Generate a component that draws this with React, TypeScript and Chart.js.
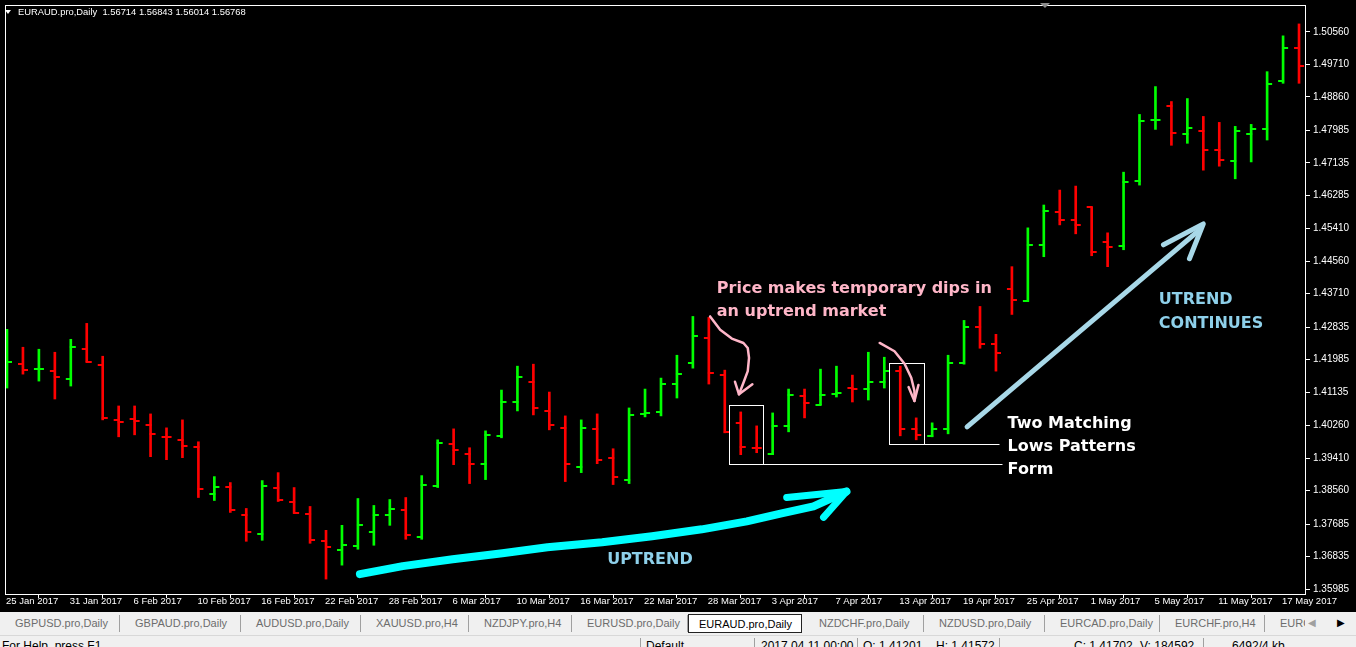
import { useEffect, useRef } from 'react';
import { Chart, registerables } from 'chart.js';

Chart.register(...registerables);

// EURAUD daily bars, 25 Jan 2017 – 18 May 2017 (one entry per trading day)
const opens = [
  1.41555, 1.41867, 1.41737, 1.41685, 1.41477, 1.42258, 1.41841, 1.40410, 1.40436, 1.40279,
  1.39967, 1.39889, 1.39707, 1.38484, 1.38666, 1.37911, 1.37416, 1.38640, 1.38249, 1.37937,
  1.37234, 1.37000, 1.37104, 1.37469, 1.37911, 1.38041, 1.37338, 1.38692, 1.39785, 1.39525,
  1.39264, 1.39993, 1.40878, 1.41399, 1.40644, 1.40201, 1.39186, 1.40175, 1.39421, 1.38848,
  1.40566, 1.40618, 1.41347, 1.41893, 1.42544, 1.41581, 1.40332, 1.39681, 1.39525, 1.40253,
  1.41034, 1.40807, 1.41086, 1.41243, 1.41216, 1.41399, 1.41685, 1.40175, 1.39993, 1.40175,
  1.41893, 1.42830, 1.42388, 1.43845, 1.43512, 1.44990, 1.45849, 1.45641, 1.45971, 1.45068,
  1.44964, 1.46656, 1.48244, 1.48608, 1.47879, 1.47957, 1.47463, 1.47184, 1.47887, 1.48017,
  1.49267, 1.50126,
];
const highs = [
  1.42778, 1.42310, 1.42258, 1.42179, 1.42518, 1.42934, 1.42075, 1.40774, 1.40774, 1.40566,
  1.40201, 1.40410, 1.39837, 1.38926, 1.38770, 1.38093, 1.38822, 1.39030, 1.38640, 1.38145,
  1.37521, 1.37651, 1.38353, 1.38171, 1.38327, 1.38379, 1.38952, 1.39889, 1.40175, 1.39681,
  1.40123, 1.41190, 1.41815, 1.41867, 1.41138, 1.40514, 1.40410, 1.40566, 1.39655, 1.40722,
  1.41216, 1.41503, 1.42101, 1.43116, 1.43090, 1.41711, 1.40618, 1.40253, 1.40592, 1.41216,
  1.41216, 1.41737, 1.41815, 1.41581, 1.42179, 1.42049, 1.41815, 1.40462, 1.40332, 1.42101,
  1.43012, 1.43377, 1.42648, 1.44418, 1.45433, 1.46031, 1.46422, 1.46526, 1.45979, 1.45303,
  1.46890, 1.48400, 1.49129, 1.48738, 1.48816, 1.48348, 1.48192, 1.48088, 1.48140, 1.49519,
  1.50456, 1.50768,
];
const lows = [
  1.41243, 1.41607, 1.41425, 1.40956, 1.41295, 1.41919, 1.40410, 1.39967, 1.40019, 1.39447,
  1.39369, 1.39421, 1.38379, 1.38301, 1.37989, 1.37234, 1.37260, 1.38275, 1.37963, 1.37182,
  1.36245, 1.36610, 1.37026, 1.37130, 1.37651, 1.37286, 1.37286, 1.38640, 1.39238, 1.38744,
  1.38848, 1.39941, 1.40644, 1.40540, 1.40149, 1.38796, 1.39030, 1.39264, 1.38718, 1.38744,
  1.40488, 1.40514, 1.40982, 1.41763, 1.41347, 1.40071, 1.39499, 1.39551, 1.39499, 1.40097,
  1.40462, 1.40800, 1.41008, 1.40878, 1.40930, 1.41243, 1.39993, 1.39889, 1.39967, 1.40045,
  1.41867, 1.42284, 1.41685, 1.43168, 1.43507, 1.44678, 1.45511, 1.45277, 1.44704, 1.44418,
  1.44860, 1.46552, 1.48009, 1.47593, 1.47645, 1.46942, 1.47046, 1.46716, 1.47158, 1.47731,
  1.49215, 1.49215,
];
const closes = [
  1.41919, 1.41711, 1.41750, 1.41529, 1.42310, 1.41927, 1.40462, 1.40358, 1.40384, 1.40045,
  1.39960, 1.39733, 1.38614, 1.38666, 1.38041, 1.37469, 1.38692, 1.38301, 1.37971, 1.37260,
  1.37078, 1.37130, 1.37651, 1.37911, 1.38067, 1.37390, 1.38718, 1.39811, 1.39629, 1.39264,
  1.40019, 1.40878, 1.41529, 1.40722, 1.40279, 1.39264, 1.40201, 1.39369, 1.38926, 1.40540,
  1.40592, 1.41347, 1.41607, 1.42596, 1.41633, 1.40097, 1.39707, 1.39676, 1.40253, 1.41060,
  1.40852, 1.41060, 1.41112, 1.41216, 1.41399, 1.41685, 1.40175, 1.40019, 1.40175, 1.41893,
  1.42830, 1.42388, 1.42153, 1.43559, 1.44990, 1.45875, 1.45641, 1.45511, 1.44808, 1.44938,
  1.46630, 1.48218, 1.48257, 1.47905, 1.48036, 1.47463, 1.47210, 1.47965, 1.48017, 1.49189,
  1.50126, 1.49657,
];

// time axis labels and the bar each one sits on
const dateLabelBars = [0, 4, 8, 12, 16, 20, 24, 28, 32, 36, 40, 44, 48, 52, 56, 60, 64, 68, 72, 76, 80];
const dateLabels = [
  '25 Jan 2017', '31 Jan 2017', '6 Feb 2017', '10 Feb 2017', '16 Feb 2017', '22 Feb 2017',
  '28 Feb 2017', '6 Mar 2017', '10 Mar 2017', '16 Mar 2017', '22 Mar 2017', '28 Mar 2017',
  '3 Apr 2017', '7 Apr 2017', '13 Apr 2017', '19 Apr 2017', '25 Apr 2017', '1 May 2017',
  '5 May 2017', '11 May 2017', '17 May 2017',
];

// price scale labels
const priceLabels = [
  '1.35985', '1.36835', '1.37685', '1.38560', '1.39410', '1.40260', '1.41135', '1.41985', '1.42835',
  '1.43710', '1.44560', '1.45410', '1.46285', '1.47135', '1.47985', '1.48860', '1.49710', '1.50560',
];

const symbolHeader = 'EURAUD.pro,Daily  1.56714 1.56843 1.56014 1.56768';

const tabNames = [
  'GBPUSD.pro,Daily', 'GBPAUD.pro,Daily', 'AUDUSD.pro,Daily', 'XAUUSD.pro,H4', 'NZDJPY.pro,H4',
  'EURUSD.pro,Daily', 'EURAUD.pro,Daily', 'NZDCHF.pro,Daily', 'NZDUSD.pro,Daily', 'EURCAD.pro,Daily',
  'EURCHF.pro,H4', 'EURGBP.pro,Daily',
];
const activeTab = 'EURAUD.pro,Daily';

const statusItems = ['For Help, press F1', 'Default', '2017.04.11 00:00', 'O: 1.41201', 'H: 1.41572', 'C: 1.41702', 'V: 184592', '6492/4 kb'];

// hand-drawn markup, in (bar index, price) units
type P = [number, number];
const uptrendArrow: P[] = [
  [22.125, 1.36375], [24.81, 1.36584], [27.94, 1.36766], [31.06, 1.36922], [33.88, 1.37078],
  [37.31, 1.37208], [40.44, 1.37364], [43.56, 1.37547], [46.38, 1.37755], [48.56, 1.37963],
  [50.56, 1.38145], [52.63, 1.38536],
];
const uptrendHead: P[] = [[48.88, 1.38379], [52.63, 1.38536], [51.19, 1.37859]];
const dipArrowA: P[] = [
  [44.08, 1.43116], [44.71, 1.42770], [45.44, 1.42536], [46.17, 1.42422], [46.44, 1.42291],
  [46.52, 1.42031], [46.44, 1.41685], [46.17, 1.41380], [45.89, 1.41079],
];
const dipHeadA: P[] = [[45.64, 1.41406], [45.89, 1.41079], [46.73, 1.41339]];
const dipArrowB: P[] = [
  [54.71, 1.42422], [55.64, 1.42205], [56.27, 1.41880], [56.69, 1.41511], [56.89, 1.41164], [56.89, 1.40904],
];
const dipHeadB: P[] = [[56.52, 1.41268], [56.89, 1.40904], [57.14, 1.41321]];
const continueArrow: P[] = [[60.19, 1.40227], [74.69, 1.45355]];
const continueHead: P[] = [[72.5, 1.44990], [75.0, 1.45537], [74.13, 1.44626]];
const lowBoxA = { x0: 45.25, x1: 47.375, top: 1.40800, bottom: 1.39264, lineTo: 62.375 };
const lowBoxB = { x0: 55.31, x1: 57.5, top: 1.41893, bottom: 1.39785, lineTo: 62.19 };

const dipNote = { x: 44.5, lines: [['Price makes temporary dips in', 1.43741], ['an uptrend market', 1.43116]] as [string, number][] };
const matchNote = { x: 62.73, lines: [['Two Matching', 1.40209], ['Lows Patterns', 1.39603], ['Form', 1.38996]] as [string, number][] };
const continueNote = { x: 72.21, lines: [['UTREND', 1.43437], ['CONTINUES', 1.42812]] as [string, number][] };
const uptrendNote = { x: 37.625, lines: [['UPTREND', 1.36636]] as [string, number][] };

const UP = '#00FF00';
const DOWN = '#FF0000';

function tickImage(color: string, side: 'open' | 'close') {
  const c = document.createElement('canvas');
  c.width = 12;
  c.height = 2;
  const g = c.getContext('2d')!;
  g.fillStyle = color;
  if (side === 'open') g.fillRect(1, 0, 6, 2);
  else g.fillRect(5, 0, 6, 2);
  return c;
}

const markup = {
  id: 'markup',
  afterDatasetsDraw(chart: any) {
    const { ctx, chartArea: a, scales } = chart;
    const X = (v: number) => scales.x.getPixelForValue(v);
    const Y = (v: number) => scales.y.getPixelForValue(v);
    ctx.save();

    // chart frame
    ctx.strokeStyle = '#FFFFFF';
    ctx.lineWidth = 1;
    ctx.strokeRect(a.left + 0.5, a.top + 0.5, a.right - a.left - 1, a.bottom - a.top);

    // header
    ctx.fillStyle = '#FFFFFF';
    ctx.beginPath();
    ctx.moveTo(5, 10);
    ctx.lineTo(11, 10);
    ctx.lineTo(8, 14);
    ctx.closePath();
    ctx.fill();
    ctx.font = '9.4px "Liberation Sans"';
    ctx.textBaseline = 'middle';
    ctx.fillText(symbolHeader, 18, 12.5);
    ctx.fillStyle = '#8C8C8C';
    ctx.beginPath();
    ctx.moveTo(1040, 3);
    ctx.lineTo(1050, 3);
    ctx.lineTo(1045, 8);
    ctx.closePath();
    ctx.fill();

    ctx.save();
    ctx.beginPath();
    ctx.rect(a.left, a.top, a.right - a.left, a.bottom - a.top);
    ctx.clip();

    const path = (pts: P[], color: string, width: number) => {
      ctx.strokeStyle = color;
      ctx.lineWidth = width;
      ctx.lineCap = 'round';
      ctx.lineJoin = 'round';
      ctx.beginPath();
      pts.forEach(([i, v], k) => (k ? ctx.lineTo(X(i), Y(v)) : ctx.moveTo(X(i), Y(v))));
      ctx.stroke();
    };

    // matching-low boxes and their guide lines
    ctx.strokeStyle = '#FFFFFF';
    ctx.lineWidth = 1;
    for (const b of [lowBoxA, lowBoxB]) {
      const l = Math.round(X(b.x0)) + 0.5;
      const r = Math.round(X(b.x1)) + 0.5;
      const t = Math.round(Y(b.top)) + 0.5;
      const bt = Math.round(Y(b.bottom)) + 0.5;
      ctx.strokeRect(l, t, r - l, bt - t);
      ctx.beginPath();
      ctx.moveTo(r, bt);
      ctx.lineTo(Math.round(X(b.lineTo)) + 0.5, bt);
      ctx.stroke();
    }

    path(uptrendArrow, '#00FFFF', 8);
    path(uptrendHead, '#00FFFF', 7);
    path(dipArrowA, '#FFB6C8', 2.5);
    path(dipHeadA, '#FFB6C8', 2.5);
    path(dipArrowB, '#FFB6C8', 2.5);
    path(dipHeadB, '#FFB6C8', 2.5);
    path(continueArrow, '#A8D8E8', 5);
    path(continueHead, '#A8D8E8', 5);

    const note = (n: { x: number; lines: [string, number][] }, color: string) => {
      ctx.font = 'bold 16px "DejaVu Sans"';
      ctx.textBaseline = 'alphabetic';
      ctx.textAlign = 'left';
      ctx.fillStyle = color;
      for (const [t, v] of n.lines) ctx.fillText(t, X(n.x), Y(v));
    };
    note(dipNote, '#FFB6C8');
    note(matchNote, '#FFFFFF');
    note(continueNote, '#8ED0EA');
    note(uptrendNote, '#8ED0EA');

    ctx.restore();
    ctx.restore();
  },
};

export default function App() {
  const ref = useRef<HTMLCanvasElement | null>(null);

  useEffect(() => {
    if (!ref.current) return;
    const up = closes.map((c, i) => c >= opens[i]);
    const openImgs = { u: tickImage(UP, 'open'), d: tickImage(DOWN, 'open') };
    const closeImgs = { u: tickImage(UP, 'close'), d: tickImage(DOWN, 'close') };

    const chart = new Chart(ref.current, {
      type: 'bar',
      data: {
        datasets: [
          {
            type: 'bar',
            data: highs.map((h, i) => ({ x: i, y: [lows[i], h] })) as any,
            backgroundColor: up.map((u) => (u ? UP : DOWN)),
            barThickness: 2,
            borderWidth: 0,
            grouped: false,
          } as any,
          {
            type: 'line',
            data: opens.map((o, i) => ({ x: i, y: o })),
            showLine: false,
            pointRadius: 1,
            pointStyle: (c: any) => (up[c.dataIndex] ? openImgs.u : openImgs.d),
          } as any,
          {
            type: 'line',
            data: closes.map((v, i) => ({ x: i, y: v })),
            showLine: false,
            pointRadius: 1,
            pointStyle: (c: any) => (up[c.dataIndex] ? closeImgs.u : closeImgs.d),
          } as any,
        ],
      },
      options: {
        animation: false,
        responsive: false,
        events: [],
        layout: { padding: { top: 2, left: 1, right: 0, bottom: 0 } },
        plugins: { legend: { display: false }, tooltip: { enabled: false } },
        scales: {
          x: {
            type: 'linear',
            min: -0.125,
            max: 81.4375,
            offset: false,
            afterBuildTicks: (s: any) => {
              s.ticks = dateLabelBars.map((v) => ({ value: v }));
            },
            afterFit: (s: any) => {
              s.height = 18;
              s.paddingLeft = 0;
              s.paddingRight = 0;
            },
            border: { display: false },
            grid: { drawOnChartArea: false, drawTicks: true, tickLength: 4, color: '#FFFFFF' },
            ticks: {
              autoSkip: false,
              maxRotation: 0,
              minRotation: 0,
              align: 'start',
              padding: -2,
              labelOffset: -1,
              color: '#FFFFFF',
              font: { family: '"Liberation Sans"', size: 9.5 },
              callback: (_v: any, i: number) => dateLabels[i],
            },
          },
          y: {
            type: 'linear',
            position: 'right',
            min: 1.35855,
            max: 1.51263,
            afterBuildTicks: (s: any) => {
              s.ticks = priceLabels.map((t) => ({ value: parseFloat(t) }));
            },
            afterFit: (s: any) => {
              s.width = 50;
              s.paddingTop = 0;
              s.paddingBottom = 0;
            },
            border: { display: false },
            grid: { drawOnChartArea: false, drawTicks: true, tickLength: 4, color: '#FFFFFF' },
            ticks: {
              padding: 3,
              color: '#FFFFFF',
              font: { family: '"Liberation Sans"', size: 10 },
              callback: (_v: any, i: number) => priceLabels[i],
            },
          },
        },
      },
      plugins: [markup],
    });
    return () => chart.destroy();
  }, []);

  const tabLefts = [0, 120, 241, 361, 469, 572, 688, 804, 924, 1045, 1160, 1265];
  const tabRights = [120, 241, 361, 469, 572, 688, 804, 924, 1045, 1160, 1265, 1306];
  const statusLefts = [2, 646, 761, 863, 936, 1074, 1140, 1232];
  const statusSeps = [640, 754, 857, 999, 1203];

  return (
    <div style={{ position: 'fixed', left: 0, top: 0, width: 1356, height: 647, background: '#000', overflow: 'hidden' }}>
      <canvas ref={ref} width={1356} height={612} style={{ display: 'block', width: 1356, height: 612 }} />
      <div style={{ position: 'absolute', left: 0, top: 612, width: 1356, height: 23, background: '#F0F0F0', fontFamily: '"Liberation Sans"', fontSize: 11 }}>
        {tabNames.map((name, i) => {
          const active = name === activeTab;
          return (
            <div
              key={name}
              style={{
                position: 'absolute',
                left: tabLefts[i],
                top: active ? 2 : 3,
                width: tabRights[i] - tabLefts[i] - (active ? 2 : 0),
                height: active ? 19 : 17,
                background: active ? '#FFFFFF' : 'transparent',
                border: active ? '1px solid #222' : 'none',
                borderRight: active ? '1px solid #222' : i < tabNames.length - 1 ? '1px solid #A0A0A0' : 'none',
                color: active ? '#000' : '#6D6D6D',
                lineHeight: active ? '19px' : '17px',
                paddingLeft: active ? 10 : 15,
                boxSizing: 'border-box',
                whiteSpace: 'nowrap',
                overflow: 'hidden',
              }}
            >
              {name}
            </div>
          );
        })}
        <div style={{ position: 'absolute', left: 1305, top: 0, width: 51, height: 23, background: '#F0F0F0', fontSize: 10, color: '#000' }}>
          <span style={{ position: 'absolute', left: 3, top: 5, color: '#A0A0A0' }}>◀</span>
          <span style={{ position: 'absolute', left: 32, top: 5 }}>▶</span>
        </div>
      </div>
      <div style={{ position: 'absolute', left: 0, top: 635, width: 1356, height: 12, background: '#F0F0F0', borderTop: '1px solid #D8D8D8', fontFamily: '"Liberation Sans"', fontSize: 12, color: '#000', overflow: 'hidden' }}>
        {statusSeps.map((x) => (
          <div key={x} style={{ position: 'absolute', left: x, top: 2, width: 1, height: 12, background: '#A0A0A0' }} />
        ))}
        {statusItems.map((t, i) => (
          <span key={t} style={{ position: 'absolute', left: statusLefts[i], top: 3, whiteSpace: 'nowrap' }}>
            {t}
          </span>
        ))}
      </div>
    </div>
  );
}
